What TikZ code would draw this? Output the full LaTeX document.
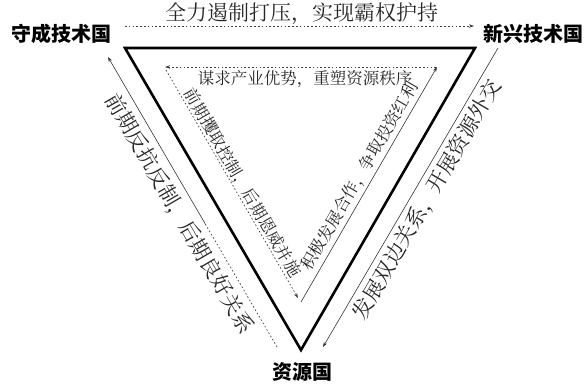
\documentclass[tikz,border=0pt]{standalone}
\usepackage{fontspec}
\usetikzlibrary{arrows.meta,calc}
\IfFontExistsTF{FandolSong}
  {\newfontfamily\songti{FandolSong}}
  {\IfFontExistsTF{Noto Serif CJK SC}
    {\newfontfamily\songti{Noto Serif CJK SC}}
    {\newfontfamily\songti{Noto Sans CJK SC}}}
\newfontfamily\heiti{Noto Sans CJK SC}
\tikzset{
  lab/.style={font=\heiti\bfseries\fontsize{20pt}{20pt}\selectfont, inner sep=0pt},
  bigtxt/.style={font=\songti\fontsize{21pt}{21pt}\selectfont, inner sep=0pt, text=black!85},
  smalltxt/.style={font=\songti\fontsize{16.5pt}{16.5pt}\selectfont, inner sep=0pt, text=black!85},
  thin/.style={line width=0.6pt, draw=black!80},
  dotline/.style={line width=0.7pt, draw=black!75, dash pattern=on 1.6pt off 2.2pt},
  arr/.style={-{Stealth[length=5pt,width=3.5pt]}},
}
\begin{document}
\begin{tikzpicture}[x=1pt,y=-1pt]
\useasboundingbox (0,0) rectangle (587,386);
% main triangle corners
\coordinate (A) at (125,48);
\coordinate (B) at (475,48);
\coordinate (C) at (301,350);
\draw[line width=2.6pt, line join=miter] (A) -- (B) -- (C) -- cycle;
% labels
\node[lab] (shou) at (62,34) {守成技术国};
\node[lab] (xin) at (533,34) {新兴技术国};
\node[lab] (zi) at (302,372) {资源国};
% top dotted arrow
\coordinate (T1) at (125,26);
\coordinate (T2) at (474,26);
\draw[dotline, arr] (T1) -- (T2);
\node[bigtxt] (ttop) at (302,14) {全力遏制打压，实现霸权护持};
% inner triangle
\coordinate (IA) at (165,67);
\coordinate (IB) at (436,67);
\coordinate (IL1) at (166,70);
\coordinate (IL2) at (298,298);
\coordinate (IR1) at (301,302);
\coordinate (IR2) at (437,67);
\draw[dotline, arr] (IB) -- (IA);
\draw[dotline, arr] (IL1) -- (IL2);
\draw[thin, arr] (IR1) -- (IR2);
\node[smalltxt] (tin) at (305,79) {谋求产业优势，重塑资源秩序};
\node[smalltxt, rotate=-59.8] (tinl) at (242,183) {前期攫取控制，后期恩威并施};
\node[smalltxt, rotate=59.8] (tinr) at (359.8,176.5) {积极发展合作，争取投资红利};
% outer left arrow (solid then dotted)
\coordinate (OL1) at (108,57);
\coordinate (OL2) at (277,347);
\coordinate (OLS) at ($(OL1)!0.575!(OL2)$);
\draw[thin, arr] (OLS) -- (OL1);
\draw[dotline] (OL2) -- (OLS);
\node[bigtxt, rotate=-59.8] (toutl) at (179,214) {前期反抗反制，后期良好关系};
% outer right arrow
\coordinate (OR1) at (498,48);
\coordinate (OR2) at (323,347);
\draw[thin, arr] (OR1) -- (OR2);
\node[bigtxt, rotate=59.8] (toutr) at (427.5,200) {发展双边关系，开展资源外交};
\end{tikzpicture}
\end{document}
